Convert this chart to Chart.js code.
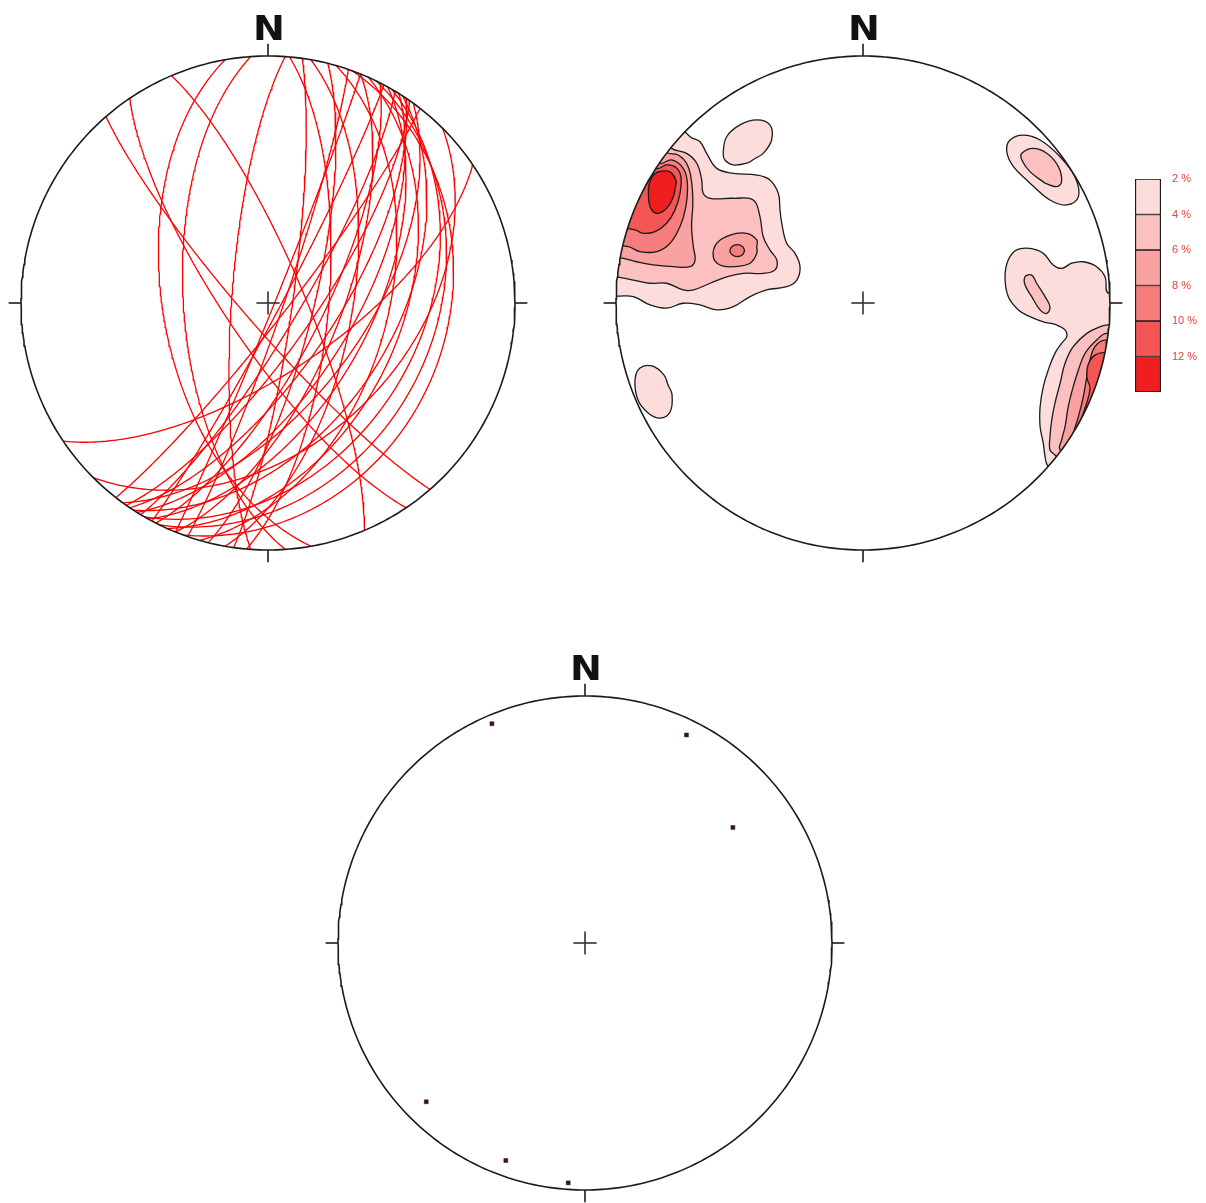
<!DOCTYPE html>
<html>
<head>
<meta charset="utf-8">
<script src="https://cdn.jsdelivr.net/npm/chart.js@4.4.1/dist/chart.umd.min.js"></script>
<style>
  html, body { margin: 0; padding: 0; background: #fff; overflow: hidden; }
  body { width: 1206px; height: 1203px; position: relative; }
  canvas { position: absolute; }
</style>
</head>
<body>
<canvas id="planes" width="600" height="600" style="left:-32px;top:3px"></canvas>
<canvas id="density" width="600" height="600" style="left:563px;top:3px"></canvas>
<canvas id="densityNet" width="600" height="600" style="left:563px;top:3px"></canvas>
<canvas id="scale" width="86" height="250" style="left:1120px;top:160px"></canvas>
<canvas id="lineations" width="600" height="600" style="left:285px;top:643px"></canvas>
<script>
const D = Math.PI / 180;
const LIM = 300 / 247;          // half canvas in net radii
const TICK = 0.05;
const CROSS = 0.047;

// planes, right-hand-rule strike / dip
const planeStrikes = [139, 146, 337, 170, 176, 184, 5, 8, 10, 14, 16, 19, 20, 22, 24, 26,
                      27, 29, 30, 31, 32, 33, 34, 35, 36, 38, 45, 56, 22, 28];
const planeDips    = [82, 76, 78, 55, 62, 78, 70, 82, 62, 75, 50, 85, 28, 66, 45, 33,
                      72, 56, 38, 80, 62, 48, 68, 75, 58, 84, 43, 67, 88, 86];

// lineations, trend / plunge
const lineTrends  = [337, 26, 52, 225, 200, 184];
const linePlunges = [4, 7, 25, 10, 7, 3];

// density contour levels (%)
const contourLevels = [2, 4, 6, 8, 10, 12];
const contourTop = 14;

// contour traces in net coordinates (x east, y north)
const nw2 = [[-0.86, 0.84], [-0.700, 0.673], [-0.660, 0.653], [-0.633, 0.606], [-0.592, 0.545], [-0.525, 0.525],
  [-0.430, 0.518], [-0.377, 0.498], [-0.343, 0.444], [-0.336, 0.377], [-0.329, 0.323], [-0.309, 0.242],
  [-0.275, 0.201], [-0.255, 0.147], [-0.268, 0.093], [-0.309, 0.066], [-0.390, 0.053], [-0.457, 0.026],
  [-0.525, -0.015], [-0.592, -0.028], [-0.660, -0.008], [-0.728, -0.001], [-0.795, -0.021], [-0.862, -0.008],
  [-0.930, 0.026], [-0.992, 0.028], [-1.2, 0.03], [-1.10, 0.47]];
const nnw2 = [[-0.437, 0.585], [-0.471, 0.566], [-0.525, 0.559], [-0.559, 0.579], [-0.566, 0.606], [-0.552, 0.673],
  [-0.498, 0.721], [-0.430, 0.741], [-0.377, 0.721], [-0.370, 0.660], [-0.404, 0.606], [-0.437, 0.585]];
const ne2 = [[0.676, 0.485], [0.609, 0.552], [0.582, 0.613], [0.595, 0.660], [0.649, 0.680], [0.717, 0.660],
  [0.798, 0.592], [0.858, 0.511], [0.872, 0.430], [0.825, 0.397], [0.757, 0.417], [0.676, 0.485]];
const e2 = [[1.2, 0.05], [0.996, 0.039], [0.980, 0.106], [0.946, 0.147], [0.892, 0.167], [0.845, 0.161],
  [0.804, 0.140], [0.770, 0.154], [0.730, 0.201], [0.676, 0.221], [0.622, 0.215], [0.588, 0.174],
  [0.575, 0.106], [0.588, 0.026], [0.629, -0.028], [0.676, -0.055], [0.730, -0.076], [0.784, -0.089],
  [0.818, -0.109], [0.825, -0.136], [0.804, -0.163], [0.777, -0.204], [0.750, -0.271], [0.730, -0.339],
  [0.717, -0.420], [0.717, -0.501], [0.730, -0.568], [0.737, -0.622], [0.746, -0.656], [0.86, -0.82], [1.15, -0.35]];
const sw2 = [[-0.790, -0.330], [-0.773, -0.372], [-0.781, -0.441], [-0.822, -0.466], [-0.870, -0.445],
  [-0.911, -0.393], [-0.923, -0.312], [-0.903, -0.263], [-0.854, -0.255], [-0.806, -0.291], [-0.790, -0.330]];

const nw4 = [[-0.933, 0.755], [-0.775, 0.626], [-0.714, 0.606], [-0.673, 0.566], [-0.653, 0.498], [-0.647, 0.444],
  [-0.619, 0.424], [-0.525, 0.424], [-0.444, 0.417], [-0.417, 0.349], [-0.404, 0.268], [-0.377, 0.215],
  [-0.349, 0.174], [-0.356, 0.134], [-0.404, 0.120], [-0.485, 0.120], [-0.552, 0.106], [-0.619, 0.080],
  [-0.687, 0.053], [-0.728, 0.053], [-0.795, 0.080], [-0.862, 0.080], [-0.930, 0.093], [-0.992, 0.105],
  [-1.2, 0.12], [-1.12, 0.45]];
const ne4 = [[0.737, 0.485], [0.676, 0.532], [0.643, 0.579], [0.643, 0.606], [0.689, 0.626], [0.744, 0.606],
  [0.791, 0.552], [0.804, 0.491], [0.784, 0.471], [0.737, 0.485]];
const e4 = [[0.720, 0.053], [0.737, 0.026], [0.757, -0.015], [0.744, -0.042], [0.717, -0.028], [0.683, 0.026],
  [0.656, 0.073], [0.656, 0.106], [0.683, 0.113], [0.703, 0.080], [0.720, 0.053]];
const se4 = [[1.2, -0.11], [0.993, -0.089], [0.960, -0.096], [0.906, -0.123], [0.851, -0.177], [0.818, -0.244],
  [0.798, -0.325], [0.777, -0.406], [0.764, -0.474], [0.757, -0.541], [0.757, -0.595], [0.777, -0.615],
  [0.93, -0.76], [1.18, -0.3]];

const nw6 = [[-0.952, 0.731], [-0.795, 0.609], [-0.748, 0.599], [-0.711, 0.559], [-0.694, 0.491], [-0.689, 0.404],
  [-0.694, 0.309], [-0.687, 0.228], [-0.680, 0.174], [-0.700, 0.147], [-0.768, 0.147], [-0.849, 0.154],
  [-0.916, 0.167], [-0.970, 0.181], [-1.18, 0.22], [-1.12, 0.43]];
const knob6 = [[-0.430, 0.228], [-0.430, 0.201], [-0.457, 0.161], [-0.525, 0.147], [-0.579, 0.154], [-0.606, 0.187],
  [-0.592, 0.242], [-0.538, 0.275], [-0.471, 0.282], [-0.430, 0.255], [-0.430, 0.228]];
const se6 = [[1.19, -0.15], [0.987, -0.123], [0.946, -0.150], [0.899, -0.204], [0.872, -0.271], [0.851, -0.339],
  [0.831, -0.420], [0.818, -0.501], [0.804, -0.555], [0.798, -0.595], [0.94, -0.73], [1.17, -0.33]];

const nw8 = [[-0.989, 0.680], [-0.825, 0.566], [-0.775, 0.579], [-0.728, 0.545], [-0.711, 0.485], [-0.717, 0.390],
  [-0.741, 0.309], [-0.781, 0.242], [-0.835, 0.208], [-0.903, 0.208], [-0.950, 0.228], [-1.17, 0.27], [-1.1, 0.5]];
const knob8 = [[-0.479, 0.212], [-0.488, 0.195], [-0.509, 0.188], [-0.530, 0.195], [-0.539, 0.212], [-0.530, 0.229],
  [-0.509, 0.236], [-0.488, 0.229], [-0.479, 0.212]];
const se8 = [[1.18, -0.19], [0.980, -0.150], [0.939, -0.177], [0.919, -0.231], [0.906, -0.298], [0.892, -0.379],
  [0.872, -0.460], [0.845, -0.541], [0.818, -0.595], [0.96, -0.7], [1.17, -0.35]];

const nw10 = [[-1.006, 0.654], [-0.838, 0.545], [-0.795, 0.559], [-0.757, 0.549], [-0.737, 0.511], [-0.741, 0.444],
  [-0.761, 0.377], [-0.795, 0.323], [-0.842, 0.289], [-0.889, 0.282], [-0.923, 0.296], [-1.15, 0.35], [-1.1, 0.5]];
const se10 = [[1.17, -0.25], [0.984, -0.202], [0.939, -0.211], [0.911, -0.251], [0.907, -0.304], [0.919, -0.344],
  [0.903, -0.413], [0.870, -0.506], [0.846, -0.575], [0.97, -0.7], [1.16, -0.4]];

const nw12 = [[-0.760, 0.465], [-0.768, 0.430], [-0.795, 0.383], [-0.835, 0.363], [-0.862, 0.390], [-0.869, 0.444],
  [-0.865, 0.485], [-0.845, 0.522], [-0.815, 0.534], [-0.780, 0.530], [-0.757, 0.495], [-0.760, 0.465]];

const contours = [
  {level: 2, pts: nw2}, {level: 2, pts: nnw2}, {level: 2, pts: ne2}, {level: 2, pts: e2}, {level: 2, pts: sw2},
  {level: 4, pts: nw4}, {level: 4, pts: ne4}, {level: 4, pts: e4}, {level: 4, pts: se4},
  {level: 6, pts: nw6}, {level: 6, pts: knob6}, {level: 6, pts: se6},
  {level: 8, pts: nw8}, {level: 8, pts: knob8}, {level: 8, pts: se8},
  {level: 10, pts: nw10}, {level: 10, pts: se10},
  {level: 12, pts: nw12}
];

const bandColors = {2: '#fddcdc', 4: '#fcc0c0', 6: '#faa2a2', 8: '#f77d7d', 10: '#f45555', 12: '#f01e1e'};
const INK = '#1b1b1b';

// equal-area, lower hemisphere, unit primitive
function project(trend, plunge) {
  const r = Math.SQRT2 * Math.sin((90 - plunge) * D / 2);
  return {x: r * Math.sin(trend * D), y: r * Math.cos(trend * D)};
}

function greatCircle(strike, dip) {
  const pts = [];
  const s = strike * D, d = dip * D;
  for (let a = 0; a <= 180; a++) {
    const t = a * D;
    const n = Math.cos(t) * Math.cos(s) - Math.sin(t) * Math.cos(d) * Math.sin(s);
    const e = Math.cos(t) * Math.sin(s) + Math.sin(t) * Math.cos(d) * Math.cos(s);
    const z = Math.sin(t) * Math.sin(d);
    const h = Math.hypot(n, e);
    const r = Math.sqrt(Math.max(0, 1 - z));
    pts.push(h < 1e-9 ? {x: 0, y: 0} : {x: r * e / h, y: r * n / h});
  }
  return pts;
}

function path(data, color, width) {
  return {data, showLine: true, borderColor: color, borderWidth: width, pointRadius: 0, fill: false, tension: 0};
}

// primitive, N/E/S/W ticks and centre cross
function frameSets() {
  const ring = [];
  for (let a = 0; a <= 360; a++) ring.push({x: Math.sin(a * D), y: Math.cos(a * D)});
  const sets = [path(ring, INK, 1.6)];
  [0, 90, 180, 270].forEach(function (a) {
    const sx = Math.sin(a * D), sy = Math.cos(a * D);
    sets.push(path([{x: sx, y: sy}, {x: sx * (1 + TICK), y: sy * (1 + TICK)}], INK, 1.6));
  });
  sets.push(path([{x: -CROSS, y: 0}, {x: CROSS, y: 0}], '#333', 1.6));
  sets.push(path([{x: 0, y: -CROSS}, {x: 0, y: CROSS}], '#333', 1.6));
  return sets;
}

const northLabel = {
  id: 'northLabel',
  afterDatasetsDraw: function (chart) {
    const ctx = chart.ctx;
    ctx.save();
    ctx.font = 'bold 34px "DejaVu Sans"';
    ctx.fillStyle = '#111';
    ctx.textAlign = 'center';
    ctx.textBaseline = 'alphabetic';
    ctx.translate(chart.scales.x.getPixelForValue(0) + 1, chart.scales.y.getPixelForValue(1.065));
    ctx.scale(1.12, 1);
    ctx.fillText('N', 0, 0);
    ctx.restore();
  }
};

// keep contour fills inside the primitive
const netClip = {
  id: 'netClip',
  beforeDatasetsDraw: function (chart) {
    const ctx = chart.ctx, x = chart.scales.x, y = chart.scales.y;
    const cx = x.getPixelForValue(0), cy = y.getPixelForValue(0);
    ctx.save();
    ctx.beginPath();
    ctx.arc(cx, cy, x.getPixelForValue(1) - cx, 0, 2 * Math.PI);
    ctx.clip();
  },
  afterDatasetsDraw: function (chart) {
    chart.ctx.restore();
  }
};

function makeNet(id, datasets, plugins) {
  return new Chart(document.getElementById(id), {
    type: 'scatter',
    data: {datasets: datasets},
    options: {
      animation: false,
      responsive: false,
      events: [],
      layout: {padding: 0, autoPadding: false},
      plugins: {legend: {display: false}, tooltip: {enabled: false}},
      scales: {
        x: {type: 'linear', min: -LIM, max: LIM, display: false},
        y: {type: 'linear', min: -LIM, max: LIM, display: false}
      }
    },
    plugins: plugins
  });
}

// great circles
const planeSets = planeStrikes.map(function (s, i) {
  return path(greatCircle(s, planeDips[i]), '#ff0000', 1.3);
});
makeNet('planes', frameSets().concat(planeSets), [northLabel]);

// density contours
const contourSets = contours.map(function (c, i) {
  return {
    data: c.pts.map(function (p) { return {x: p[0], y: p[1]}; }),
    showLine: true,
    fill: 'shape',
    tension: 0.4,
    backgroundColor: bandColors[c.level],
    borderColor: INK,
    borderWidth: 1.3,
    pointRadius: 0,
    order: contours.length - i
  };
});
makeNet('density', contourSets, [netClip]);
makeNet('densityNet', frameSets(), [northLabel]);

// colour scale
new Chart(document.getElementById('scale'), {
  type: 'bar',
  data: {
    labels: [''],
    datasets: contourLevels.map(function (lv, i) {
      const hi = i < contourLevels.length - 1 ? contourLevels[i + 1] : contourTop;
      return {
        data: [[lv, hi]],
        backgroundColor: bandColors[lv],
        borderColor: INK,
        borderWidth: {left: 1.5, right: 1.5, top: 1, bottom: 1},
        borderSkipped: false,
        grouped: false,
        barPercentage: 1,
        categoryPercentage: 1
      };
    })
  },
  options: {
    animation: false,
    responsive: false,
    events: [],
    layout: {padding: {top: 19, bottom: 18, left: 15, right: 0}, autoPadding: false},
    plugins: {legend: {display: false}, tooltip: {enabled: false}},
    scales: {
      x: {display: false},
      y: {
        position: 'right',
        reverse: true,
        min: contourLevels[0],
        max: contourTop,
        grid: {display: false},
        border: {display: false},
        ticks: {
          stepSize: 2,
          padding: 3,
          color: '#e8403f',
          font: {size: 11, family: '"Liberation Sans", Arial'},
          callback: function (v) { return v < contourTop ? v + ' %' : ''; }
        },
        afterFit: function (scale) { scale.width = 45; }
      }
    }
  }
});

// lineations
const lineSet = {
  data: lineTrends.map(function (t, i) { return project(t, linePlunges[i]); }),
  showLine: false,
  pointStyle: 'rect',
  pointRadius: 2.8,
  pointBackgroundColor: '#3b1414',
  pointBorderColor: '#3b1414',
  pointBorderWidth: 0.5
};
makeNet('lineations', frameSets().concat([lineSet]), [northLabel]);
</script>
</body>
</html>
